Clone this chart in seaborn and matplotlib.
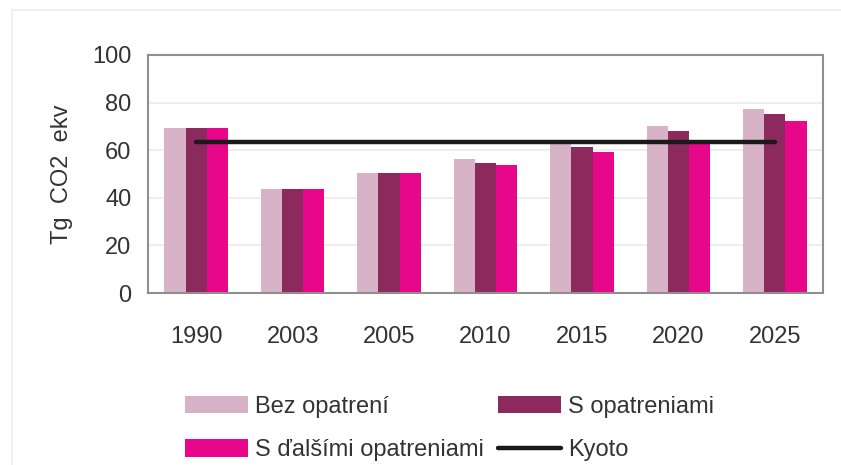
import matplotlib
matplotlib.use('Agg')
import matplotlib.pyplot as plt
from matplotlib.patches import Rectangle
import seaborn as sns
import pandas as pd

# Data
years = ['1990', '2003', '2005', '2010', '2015', '2020', '2025']
bez_opatreni = [69.4, 43.8, 50.6, 56.5, 63.5, 70.2, 77.2]
s_opatreniami = [69.4, 43.8, 50.6, 54.6, 61.4, 68.2, 75.2]
s_dalsimi = [69.4, 43.8, 50.6, 53.6, 59.4, 62.8, 72.3]
kyoto = [63.6, 63.6, 63.6, 63.6, 63.6, 63.6, 63.6]

scenarios = ['Bez opatrení', 'S opatreniami', 'S ďalšími opatreniami']
colors = ['#D8B3C8', '#8C2A5E', '#E8068B']
y_ticks = [0, 20, 40, 60, 80, 100]

df = pd.DataFrame({
    'rok': years * 3,
    'hodnota': bez_opatreni + s_opatreniami + s_dalsimi,
    'scenar': [scenarios[0]] * 7 + [scenarios[1]] * 7 + [scenarios[2]] * 7,
})

sns.set_style('white')
plt.rcParams['font.family'] = ['Liberation Sans', 'DejaVu Sans']

fig = plt.figure(figsize=(8.41, 4.65), dpi=100)
ax = fig.add_axes([148 / 841, 1 - 293 / 465, (823 - 148) / 841, (293 - 55) / 465])

sns.barplot(data=df, x='rok', y='hodnota', hue='scenar', order=years,
            hue_order=scenarios, palette=colors, width=0.66, saturation=1,
            linewidth=0, ax=ax, legend=False, zorder=2)

# Kyoto target line
sns.lineplot(x=list(range(len(years))), y=kyoto, color='#1a1a1a', linewidth=3.2,
             ax=ax, zorder=3)

ax.set_ylim(0, 100)
ax.set_yticks(y_ticks)
ax.set_xlim(-0.5, len(years) - 0.5)
ax.yaxis.grid(True, color='#ebebeb', linewidth=1.2, zorder=0)
ax.set_axisbelow(True)
for sp in ax.spines.values():
    sp.set_visible(True)
    sp.set_color('#8f8f8f')
    sp.set_linewidth(1.5)

ax.tick_params(axis='y', labelsize=17, colors='#333333', pad=12, length=0)
ax.tick_params(axis='x', labelsize=17, colors='#333333', pad=24, length=0)
ax.set_xlabel('')
ax.set_ylabel('Tg  CO2  ekv', fontsize=17, color='#333333', labelpad=14)

# Legend
handles = [
    Rectangle((0, 0), 1, 1, facecolor=colors[0], edgecolor='none'),
    Rectangle((0, 0), 1, 1, facecolor=colors[2], edgecolor='none'),
    Rectangle((0, 0), 1, 1, facecolor=colors[1], edgecolor='none'),
    plt.Line2D([0], [0], color='#1a1a1a', linewidth=3.2),
]
labels = [scenarios[0], scenarios[2], scenarios[1], 'Kyoto']
fig.legend(handles, labels, loc='upper left',
           bbox_to_anchor=(185 / 841, 1 - 396 / 465), ncol=2, frameon=False,
           fontsize=17, handlelength=2.67, handleheight=0.76,
           handletextpad=0.3, columnspacing=0.6, labelspacing=0.9,
           borderpad=0, borderaxespad=0, labelcolor='#333333')

# faint outer frame
fig.add_artist(Rectangle((12 / 841, -0.01), 0.99, 1 - 10 / 465 + 0.01,
                         transform=fig.transFigure, fill=False,
                         edgecolor='#ececec', linewidth=1.2))

fig.savefig('out.png', dpi=100, facecolor='white')
